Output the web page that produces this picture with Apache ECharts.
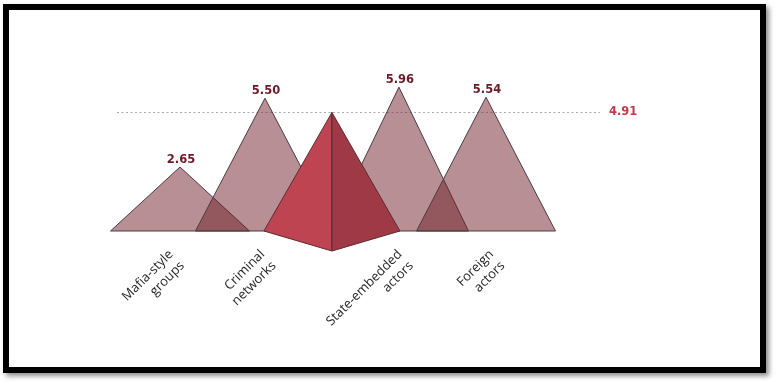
<!DOCTYPE html>
<html>
<head>
<meta charset="utf-8">
<script src="https://cdn.jsdelivr.net/npm/echarts@6/dist/echarts.min.js"></script>
<style>
  html, body { margin: 0; padding: 0; background: #fff; }
  #frame { position: absolute; left: 3px; top: 4px; width: 763px; height: 369px; box-sizing: border-box;
           border: 6px solid #000; box-shadow: 3px 3px 5px rgba(0,0,0,0.45); background: #fff; }
  #chart { position: absolute; left: 0; top: 0; width: 779px; height: 386px; }
</style>
</head>
<body>
<div id="frame"></div>
<div id="chart"></div>
<script>
// ---- data ----
const categories = ['Mafia-style\ngroups', 'Criminal\nnetworks', 'State-embedded\nactors', 'Foreign\nactors'];
const groupValues = [2.65, 5.50, 5.96, 5.54];
const averageValue = 4.91;

// ---- layout (axis slots; not data) ----
const slotCount = 8;
const categorySlots = [0, 2, 5, 7];
const pyramidSlots = [3, 4];           // pyramid drawn midway between these slots
const triOffsets = [3.3, -3.3, -6.7, -11.2];
const pyramidOffset = -5;
const triHalfWidth = 69.5;
const pyrHalfWidth = 68;
const pyrDepth = 20;

// ---- styling ----
const triFill = 'rgba(111,31,41,0.5)';
const triStroke = '#4a3c3f';
const valueColor = '#6a1a28';
const avgColor = '#c23b4b';

const axisData = Array.from({ length: slotCount }, () => '');
categorySlots.forEach((s, i) => { axisData[s] = categories[i]; });

const triData = groupValues.map((v, i) => [categorySlots[i], v, i]);

const chart = echarts.init(document.getElementById('chart'), null, { renderer: 'canvas' });

chart.setOption({
  animation: false,
  grid: [
    { left: 153.8, right: 258.9, top: 62, bottom: 155 },
    { left: 117, right: 179, top: 62, bottom: 155 }
  ],
  xAxis: [
    {
      type: 'category', gridIndex: 0, data: axisData,
      axisLine: { show: false }, axisTick: { show: false },
      axisLabel: {
        interval: 0, rotate: 45, margin: 27, hideOverlap: false,
        fontFamily: 'Open Sans', fontSize: 13, color: '#262626', lineHeight: 16
      }
    },
    { type: 'value', gridIndex: 1, min: 0, max: 1, show: false }
  ],
  yAxis: [
    { type: 'value', gridIndex: 0, min: 0, max: 7, show: false },
    { type: 'value', gridIndex: 1, min: 0, max: 7, show: false }
  ],
  series: [
    {
      type: 'line', xAxisIndex: 1, yAxisIndex: 1,
      data: [[0, averageValue], [1, averageValue]],
      showSymbol: false, silent: true, z: 1,
      lineStyle: { color: '#a8a8a8', width: 1, type: [2, 2.5] },
      endLabel: {
        show: true, distance: 9,
        formatter: () => averageValue.toFixed(2),
        fontFamily: 'DejaVu Sans', fontWeight: 'bold', fontSize: 11.5, color: avgColor
      }
    },
    {
      type: 'custom', xAxisIndex: 0, yAxisIndex: 0, z: 2,
      data: triData,
      renderItem: function (params, api) {
        const slot = api.value(0);
        const val = api.value(1);
        const off = triOffsets[api.value(2)] || 0;
        const top = api.coord([slot, val]);
        const base = api.coord([slot, 0]);
        const cx = top[0] + off;
        return {
          type: 'group',
          children: [
            { type: 'polygon',
              shape: { points: [[cx, top[1]], [cx + triHalfWidth, base[1]], [cx - triHalfWidth, base[1]]] },
              style: { fill: triFill, stroke: triStroke, lineWidth: 1 } },
            { type: 'text',
              style: { text: val.toFixed(2), x: cx + 1, y: top[1] - 1, align: 'center', verticalAlign: 'bottom',
                       fontFamily: 'DejaVu Sans', fontWeight: 'bold', fontSize: 11.5, fill: valueColor } }
          ]
        };
      }
    },
    {
      type: 'custom', xAxisIndex: 0, yAxisIndex: 0, z: 5,
      data: [[pyramidSlots[0], pyramidSlots[1], averageValue]],
      renderItem: function (params, api) {
        const v = api.value(2);
        const a = api.coord([api.value(0), v]);
        const b = api.coord([api.value(1), v]);
        const x = (a[0] + b[0]) / 2 + pyramidOffset;
        const base0 = api.coord([api.value(0), 0]);
        const top = [x, a[1]];
        const by = base0[1];
        const bottom = [x, by + pyrDepth];
        return {
          type: 'group',
          children: [
            { type: 'polygon', shape: { points: [top, [x - pyrHalfWidth, by], bottom] },
              style: { fill: '#be4451', stroke: '#5a2a31', lineWidth: 1 } },
            { type: 'polygon', shape: { points: [top, bottom, [x + pyrHalfWidth, by]] },
              style: { fill: '#9f3945', stroke: '#5a2a31', lineWidth: 1 } }
          ]
        };
      }
    }
  ]
});
</script>
</body>
</html>
